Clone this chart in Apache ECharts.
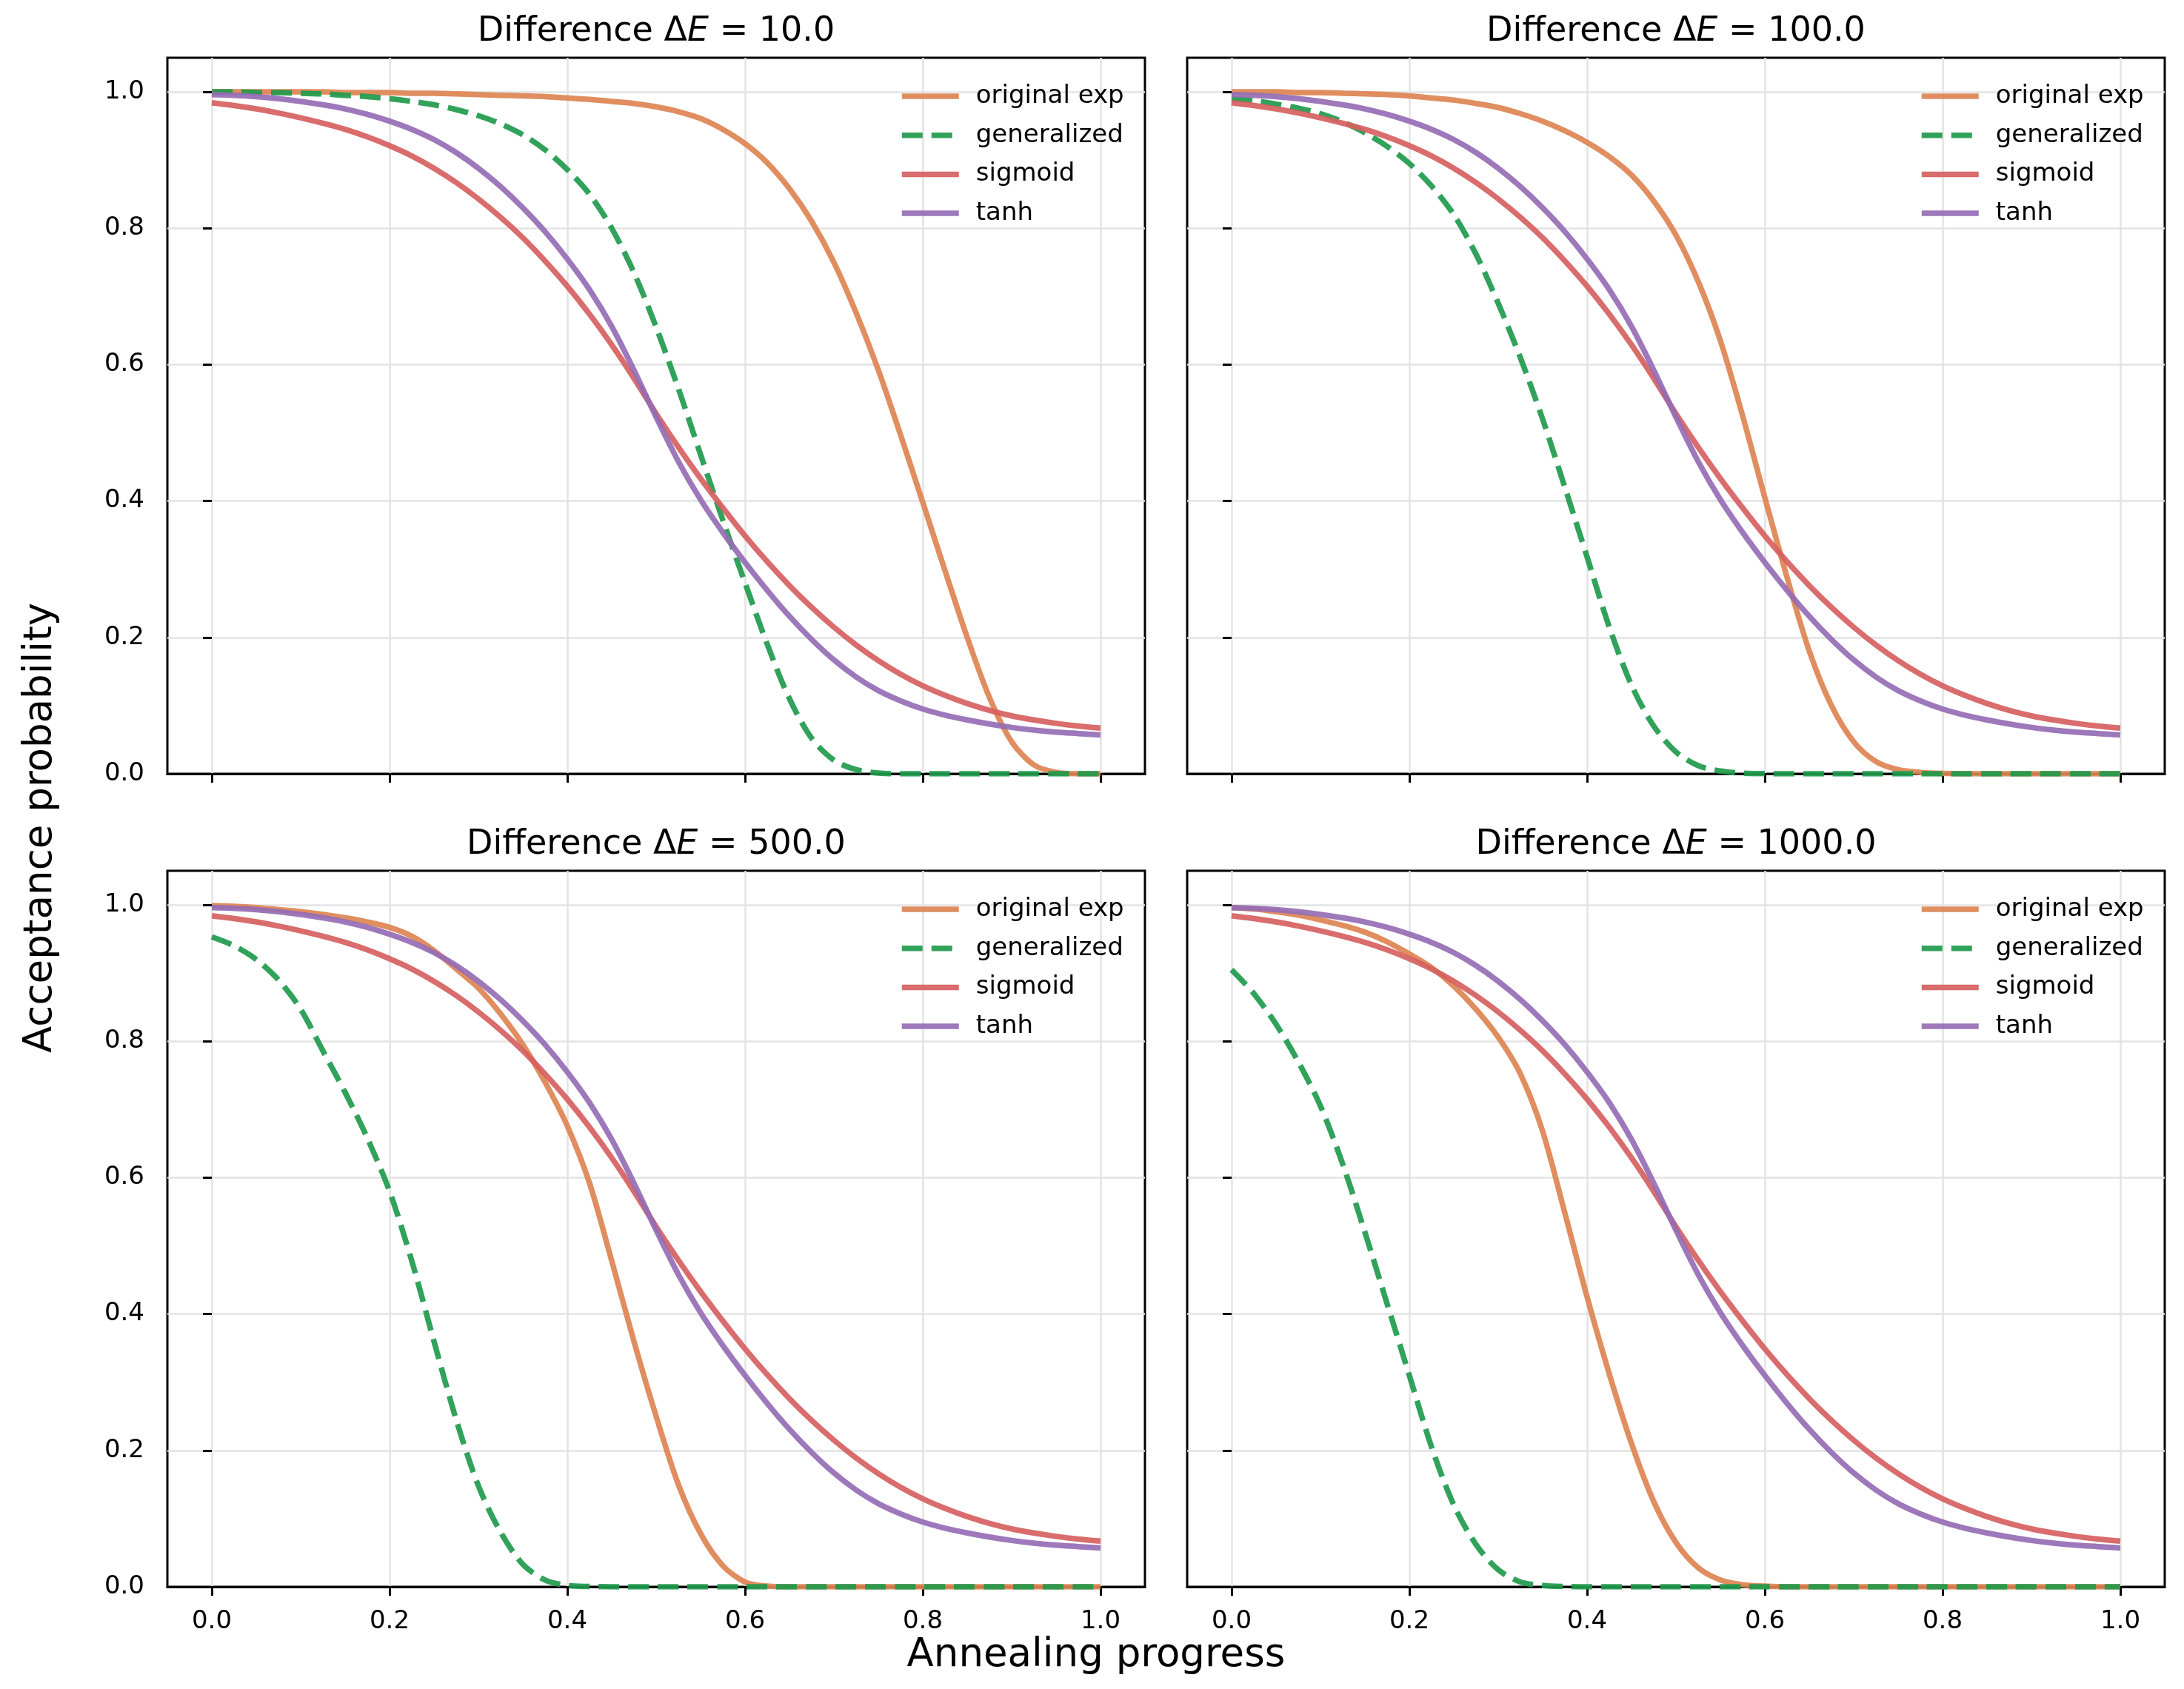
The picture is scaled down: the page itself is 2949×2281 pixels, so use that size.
<!DOCTYPE html>
<html>
<head>
<meta charset="utf-8">
<script src="https://cdn.jsdelivr.net/npm/echarts@6/dist/echarts.min.js"></script>
<style>
html, body { margin: 0; padding: 0; background: #ffffff; }
#chart { width: 2949px; height: 2281px; }
</style>
</head>
<body>
<div id="chart"></div>
<script>
// ---------------- data ----------------
const progress = [0,0.025,0.05,0.075,0.1,0.125,0.15,0.175,0.2,0.225,0.25,0.275,0.3,0.325,0.35,0.375,0.4,0.425,0.45,0.475,0.5,0.525,0.55,0.575,0.6,0.625,0.65,0.675,0.7,0.725,0.75,0.775,0.8,0.825,0.85,0.875,0.9,0.925,0.95,0.975,1.0];

const seriesNames = ['original exp', 'generalized', 'sigmoid', 'tanh'];
const panelDeltaE = ['10.0', '100.0', '500.0', '1000.0'];
const xTicks = [0, 0.2, 0.4, 0.6, 0.8, 1.0];
const yTicks = [0, 0.2, 0.4, 0.6, 0.8, 1.0];

// sigmoid and tanh are identical in all four panels
const sigmoidVals = [0.984,0.980,0.975,0.969,0.962,0.954,0.945,0.934,0.921,0.906,0.888,0.867,0.843,0.816,0.786,0.752,0.715,0.674,0.629,0.580,0.528,0.479,0.433,0.390,0.349,0.311,0.276,0.244,0.215,0.189,0.166,0.146,0.129,0.115,0.103,0.093,0.085,0.079,0.074,0.070,0.067];
const tanhVals = [0.996,0.995,0.993,0.990,0.986,0.981,0.975,0.967,0.957,0.945,0.930,0.911,0.888,0.861,0.830,0.795,0.755,0.710,0.656,0.592,0.523,0.458,0.402,0.354,0.310,0.269,0.231,0.197,0.167,0.142,0.122,0.107,0.095,0.086,0.079,0.073,0.068,0.064,0.061,0.059,0.057];

// Delta E = 10
const exp10 = [1.000,1.000,1.000,1.000,1.000,1.000,0.999,0.999,0.999,0.998,0.998,0.997,0.996,0.995,0.994,0.993,0.991,0.989,0.986,0.983,0.978,0.971,0.961,0.945,0.924,0.896,0.858,0.810,0.750,0.676,0.592,0.497,0.398,0.298,0.200,0.112,0.047,0.013,0.002,0,0];
const gen10 = [1.000,1.000,0.999,0.999,0.998,0.997,0.995,0.993,0.990,0.986,0.981,0.974,0.965,0.953,0.937,0.915,0.886,0.850,0.800,0.735,0.655,0.565,0.468,0.372,0.280,0.190,0.110,0.052,0.020,0.006,0.001,0,0,0,0,0,0,0,0,0,0];

// Delta E = 100
const exp100 = [1.000,1.000,1.000,0.999,0.999,0.998,0.997,0.996,0.994,0.991,0.988,0.983,0.977,0.968,0.957,0.943,0.926,0.905,0.878,0.840,0.790,0.722,0.635,0.525,0.405,0.288,0.180,0.100,0.047,0.018,0.006,0.002,0.0005,0,0,0,0,0,0,0,0];
const gen100 = [0.990,0.987,0.982,0.976,0.968,0.956,0.940,0.920,0.895,0.862,0.820,0.762,0.690,0.610,0.520,0.420,0.318,0.215,0.130,0.070,0.032,0.012,0.004,0.001,0.0003,0,0,0,0,0,0,0,0,0,0,0,0,0,0,0,0];

// Delta E = 500
const exp500 = [0.999,0.998,0.996,0.993,0.990,0.986,0.981,0.975,0.967,0.954,0.933,0.906,0.878,0.840,0.795,0.740,0.676,0.592,0.478,0.360,0.250,0.150,0.078,0.031,0.007,0.001,0,0,0,0,0,0,0,0,0,0,0,0,0,0,0];
const gen500 = [0.953,0.940,0.920,0.890,0.847,0.786,0.725,0.658,0.580,0.478,0.360,0.245,0.148,0.080,0.033,0.010,0.002,0.0005,0,0,0,0,0,0,0,0,0,0,0,0,0,0,0,0,0,0,0,0,0,0,0];

// Delta E = 1000
const exp1000 = [0.996,0.994,0.990,0.985,0.978,0.970,0.960,0.946,0.928,0.908,0.881,0.847,0.806,0.752,0.668,0.548,0.425,0.312,0.210,0.125,0.065,0.028,0.010,0.003,0.001,0,0,0,0,0,0,0,0,0,0,0,0,0,0,0,0];
const gen1000 = [0.905,0.870,0.825,0.770,0.705,0.620,0.520,0.415,0.310,0.205,0.120,0.062,0.025,0.007,0.002,0.0005,0,0,0,0,0,0,0,0,0,0,0,0,0,0,0,0,0,0,0,0,0,0,0,0,0];

const panelData = [
  [exp10, gen10, sigmoidVals, tanhVals],
  [exp100, gen100, sigmoidVals, tanhVals],
  [exp500, gen500, sigmoidVals, tanhVals],
  [exp1000, gen1000, sigmoidVals, tanhVals]
];

// ---------------- styling / layout ----------------
const FONT = 'DejaVu Sans';
const colors = ['#dd8452', '#1f9a4c', '#d65f5f', '#956cb4'];
const dashes = ['solid', [28, 12], 'solid', 'solid'];
const grids = [
  { left: 226, top: 78, width: 1320, height: 967 },
  { left: 1603, top: 78, width: 1320, height: 967 },
  { left: 226, top: 1176, width: 1320, height: 967 },
  { left: 1603, top: 1176, width: 1320, height: 967 }
];

const fmt = v => Number(v).toFixed(1);

const option = {
  backgroundColor: '#ffffff',
  animation: false,
  grid: grids.map(g => ({
    left: g.left, top: g.top, width: g.width, height: g.height,
    show: true, borderColor: '#000000', borderWidth: 3, backgroundColor: 'transparent',
    containLabel: false
  })),
  xAxis: grids.map((g, i) => ({
    gridIndex: i, type: 'value', min: -0.05, max: 1.05,
    axisLine: { show: true, onZero: false, lineStyle: { color: '#000', width: 3 } },
    axisTick: { show: true, inside: false, length: 12, lineStyle: { color: '#000', width: 3 }, customValues: xTicks },
    axisLabel: { show: i >= 2, customValues: xTicks, formatter: fmt, fontSize: 34, fontFamily: FONT, color: '#000', margin: 30 },
    splitLine: { show: true, lineStyle: { color: '#e3e3e3', width: 2.5 } }
  })),
  yAxis: grids.map((g, i) => ({
    gridIndex: i, type: 'value', min: 0, max: 1.05,
    axisLine: { show: false },
    axisTick: { show: true, inside: false, length: 12, lineStyle: { color: '#000', width: 3 }, customValues: yTicks },
    axisLabel: { show: i % 2 === 0, customValues: yTicks, formatter: fmt, fontSize: 34, fontFamily: FONT, color: '#000', margin: 31 },
    splitLine: { show: true, lineStyle: { color: '#e3e3e3', width: 2.5 } }
  })),
  legend: grids.map(g => ({
    data: seriesNames,
    orient: 'vertical',
    left: g.left + 988,
    top: g.top + 35,
    itemWidth: 77,
    itemHeight: 34,
    itemGap: 18.7,
    padding: 0,
    selectedMode: false,
    itemStyle: { color: 'rgba(0,0,0,0)', borderWidth: 0, opacity: 0 },
    lineStyle: { width: 7.5 },
    textStyle: { fontSize: 34, fontFamily: FONT, color: '#000', lineHeight: 34, padding: [0, 0, 0, 18] }
  })),
  graphic: [],
  series: []
};

panelData.forEach((arrs, i) => {
  arrs.forEach((vals, k) => {
    option.series.push({
      type: 'line',
      name: seriesNames[k],
      xAxisIndex: i,
      yAxisIndex: i,
      data: progress.map((x, j) => [x, vals[j]]),
      symbol: 'none',
      showSymbol: false,
      smooth: 0.3,
      z: 2 + k,
      itemStyle: { color: colors[k] },
      lineStyle: { color: colors[k], width: 7.5, type: dashes[k], opacity: 0.92 },
      emphasis: { disabled: true }
    });
  });
});

// panel titles
panelDeltaE.forEach((t, i) => {
  option.graphic.push({
    type: 'text',
    x: grids[i].left + grids[i].width / 2,
    y: grids[i].top - 35,
    style: {
      text: 'Difference Δ{e|E} = ' + t,
      fill: '#000',
      fontSize: 46,
      fontFamily: FONT,
      align: 'center',
      verticalAlign: 'middle',
      textAlign: 'center',
      textVerticalAlign: 'middle',
      rich: { e: { fontStyle: 'italic', fontSize: 46, fontFamily: FONT, fill: '#000' } }
    }
  });
});

// shared axis labels
option.graphic.push({
  type: 'text', x: 1480, y: 2236,
  style: { text: 'Annealing progress', fill: '#000', fontSize: 53, fontFamily: FONT,
           align: 'center', verticalAlign: 'middle', textAlign: 'center', textVerticalAlign: 'middle' }
});
option.graphic.push({
  type: 'text', x: 55, y: 1118, rotation: Math.PI / 2,
  style: { text: 'Acceptance probability', fill: '#000', fontSize: 53, fontFamily: FONT,
           align: 'center', verticalAlign: 'middle', textAlign: 'center', textVerticalAlign: 'middle' }
});

const chart = echarts.init(document.getElementById('chart'), null, { renderer: 'canvas' });
chart.setOption(option);
</script>
</body>
</html>
